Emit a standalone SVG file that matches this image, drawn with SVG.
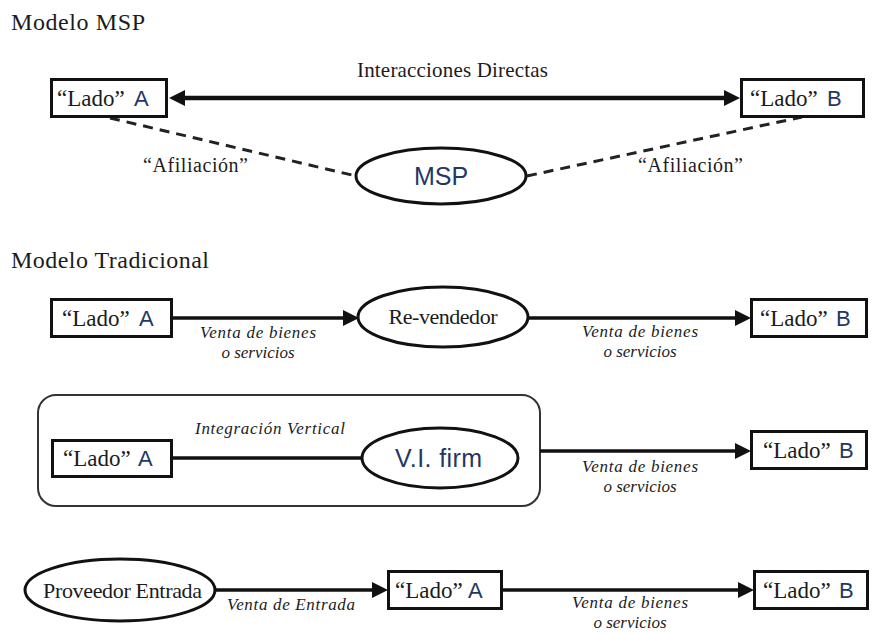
<svg xmlns="http://www.w3.org/2000/svg" width="873" height="633" viewBox="0 0 873 633">
  <style>
    .t{font-family:"Liberation Serif","Times New Roman",serif;fill:#1c1c1c}
    .title{font-size:24px}
    .lado{font-size:23px}
    .ab{font-family:"Liberation Sans",Arial,sans-serif;font-size:22px;fill:#1f3864}
    .big{font-family:"Liberation Sans",Arial,sans-serif;font-size:25px;fill:#1f3864}
    .lbl{font-family:"Liberation Serif","Times New Roman",serif;font-style:italic;font-size:17px;fill:#1c1c1c}
    .box{fill:#fff;stroke:#111;stroke-width:3}
    .ell{fill:#fff;stroke:#111;stroke-width:3}
    .line{stroke:#111;fill:none;stroke-width:3.5}
    .thick{stroke:#111;fill:none;stroke-width:4.5}
    .dash{stroke:#222;fill:none;stroke-width:3;stroke-dasharray:10 7}
    .frame{fill:#fff;stroke:#333;stroke-width:2}
  </style>
  <defs>
    <marker id="arr" viewBox="0 0 16 16" refX="0" refY="8" markerWidth="16" markerHeight="16" markerUnits="userSpaceOnUse" orient="auto-start-reverse">
      <path d="M0,0 L16,8 L0,16 z" fill="#111"/>
    </marker>
  </defs>
  <rect width="873" height="633" fill="#fff"/>

  <!-- section titles -->
  <text class="t title" x="11" y="30" textLength="134">Modelo MSP</text>
  <text class="t title" x="11" y="268" textLength="198">Modelo Tradicional</text>

  <!-- vertical integration frame -->
  <g id="vi-frame">
    <rect class="frame" x="38" y="395" width="502" height="111" rx="18"/>
  </g>

  <g id="connectors">
    <!-- MSP model -->
    <line class="thick" x1="185" y1="98" x2="724" y2="98" marker-start="url(#arr)" marker-end="url(#arr)"/>
    <line class="dash" x1="110" y1="118" x2="356" y2="176"/>
    <line class="dash" x1="527" y1="176" x2="802" y2="117"/>
    <!-- reseller row -->
    <line class="line" x1="172" y1="318" x2="343" y2="318" marker-end="url(#arr)"/>
    <line class="line" x1="528" y1="318" x2="735" y2="318" marker-end="url(#arr)"/>
    <!-- vertical integration row -->
    <line class="line" x1="172" y1="458" x2="362" y2="458"/>
    <line class="line" x1="540" y1="451" x2="735" y2="451" marker-end="url(#arr)"/>
    <!-- input supplier row -->
    <line class="line" x1="215" y1="590" x2="372" y2="590" marker-end="url(#arr)"/>
    <line class="line" x1="502" y1="590" x2="738" y2="590" marker-end="url(#arr)"/>
  </g>

  <!-- connector labels -->
  <g id="labels">
    <text class="t" x="357" y="77" font-size="21" textLength="191">Interacciones Directas</text>
    <text class="t" x="143" y="172" font-size="20" textLength="105">“Afiliación”</text>
    <text class="t" x="638" y="172" font-size="20" textLength="105">“Afiliación”</text>
    <text class="lbl" x="258" y="338" text-anchor="middle" textLength="116">Venta de bienes</text>
    <text class="lbl" x="258" y="358" text-anchor="middle">o servicios</text>
    <text class="lbl" x="640" y="337" text-anchor="middle" textLength="116">Venta de bienes</text>
    <text class="lbl" x="640" y="357" text-anchor="middle">o servicios</text>
    <text class="lbl" x="270" y="434" text-anchor="middle" textLength="150">Integración Vertical</text>
    <text class="lbl" x="640" y="472" text-anchor="middle" textLength="116">Venta de bienes</text>
    <text class="lbl" x="640" y="492" text-anchor="middle">o servicios</text>
    <text class="lbl" x="291" y="610" text-anchor="middle" textLength="128">Venta de Entrada</text>
    <text class="lbl" x="630" y="608" text-anchor="middle" textLength="116">Venta de bienes</text>
    <text class="lbl" x="630" y="628" text-anchor="middle">o servicios</text>
  </g>

  <!-- MSP model nodes -->
  <g id="msp-a">
    <rect class="box" x="51.5" y="79.5" width="115" height="37"/>
    <text class="t lado" x="57" y="106">“Lado”</text>
    <text class="ab" x="134" y="106">A</text>
  </g>
  <g id="msp-b">
    <rect class="box" x="741.5" y="79.5" width="122" height="37"/>
    <text class="t lado" x="750" y="106">“Lado”</text>
    <text class="ab" x="827" y="106">B</text>
  </g>
  <g id="msp">
    <ellipse class="ell" cx="441" cy="176" rx="85" ry="28"/>
    <text class="big" x="441" y="185" text-anchor="middle">MSP</text>
  </g>

  <!-- reseller row nodes -->
  <g id="rv-a">
    <rect class="box" x="51.5" y="299.5" width="120" height="37"/>
    <text class="t lado" x="62" y="326">“Lado”</text>
    <text class="ab" x="139" y="326">A</text>
  </g>
  <g id="reseller">
    <ellipse class="ell" cx="443" cy="317" rx="85" ry="30"/>
    <text class="t" x="443" y="324" font-size="22" text-anchor="middle" textLength="109">Re-vendedor</text>
  </g>
  <g id="rv-b">
    <rect class="box" x="751.5" y="299.5" width="115" height="37"/>
    <text class="t lado" x="760" y="326">“Lado”</text>
    <text class="ab" x="836" y="326">B</text>
  </g>

  <!-- vertical integration row nodes -->
  <g id="vi-a">
    <rect class="box" x="52.5" y="440.5" width="119" height="36"/>
    <text class="t lado" x="63" y="466">“Lado”</text>
    <text class="ab" x="138" y="466">A</text>
  </g>
  <g id="vi-firm">
    <ellipse class="ell" cx="440" cy="458" rx="78" ry="30"/>
    <text class="big" x="395" y="467" textLength="87">V.I. firm</text>
  </g>
  <g id="vi-b">
    <rect class="box" x="751.5" y="431.5" width="115" height="37"/>
    <text class="t lado" x="763" y="458">“Lado”</text>
    <text class="ab" x="839" y="458">B</text>
  </g>

  <!-- input supplier row nodes -->
  <g id="supplier">
    <ellipse class="ell" cx="120" cy="590" rx="95" ry="31"/>
    <text class="t" x="43" y="598" font-size="22" textLength="159">Proveedor Entrada</text>
  </g>
  <g id="in-a">
    <rect class="box" x="388.5" y="571.5" width="113" height="37"/>
    <text class="t lado" x="395" y="598">“Lado”</text>
    <text class="ab" x="468" y="598">A</text>
  </g>
  <g id="in-b">
    <rect class="box" x="754.5" y="571.5" width="113" height="37"/>
    <text class="t lado" x="763" y="598">“Lado”</text>
    <text class="ab" x="839" y="598">B</text>
  </g>
</svg>
